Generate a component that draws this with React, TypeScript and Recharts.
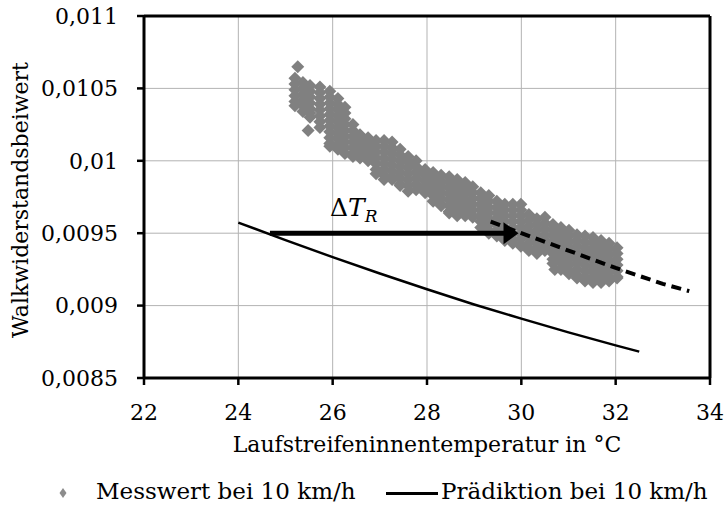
import React from 'react';
import {
  ComposedChart,
  Scatter,
  Line,
  XAxis,
  YAxis,
  CartesianGrid,
  ReferenceLine,
  Legend,
} from 'recharts';

const FONT = '"DejaVu Serif", serif';

const xTicks = [22, 24, 26, 28, 30, 32, 34];
const yTicks = [0.0085, 0.009, 0.0095, 0.01, 0.0105, 0.011];

// Messwerte bei 10 km/h, je Temperaturspalte die gemessenen Beiwerte
const messTemp = [
  25.2, 25.37, 25.52, 25.73, 25.94, 26.11, 26.26, 26.43, 26.58, 26.75, 26.92,
  27.09, 27.26, 27.43, 27.6, 27.77, 27.96, 28.13, 28.3, 28.47, 28.64, 28.81,
  28.97, 29.14, 29.31, 29.48, 29.65, 29.82, 29.99, 30.16, 30.33, 30.5, 30.67,
  30.84, 31.01, 31.18, 31.35, 31.52, 31.69, 31.86, 32.03,
];
const messBeiwerte = [
  [0.01057, 0.01053, 0.01049, 0.01045, 0.01041, 0.01038],
  [0.01054, 0.0105, 0.01046, 0.01042, 0.01038, 0.01034],
  [0.01052, 0.01048, 0.01044, 0.0104, 0.01036, 0.01033, 0.0103],
  [0.01051, 0.01047, 0.01043, 0.01039, 0.01035, 0.01031, 0.01027, 0.01023],
  [0.01048, 0.01044, 0.0104, 0.01036, 0.01032, 0.01028, 0.01024, 0.0102, 0.01016, 0.01012, 0.0101],
  [0.01043, 0.01039, 0.01035, 0.01031, 0.01027, 0.01023, 0.01019, 0.01015, 0.01011, 0.01008],
  [0.01037, 0.01033, 0.01029, 0.01025, 0.01021, 0.01017, 0.01013, 0.01009, 0.01005],
  [0.01025, 0.01021, 0.01017, 0.01013, 0.01009, 0.01005, 0.01003],
  [0.01018, 0.01014, 0.0101, 0.01006, 0.01002],
  [0.01016, 0.01012, 0.01008, 0.01004, 0.01],
  [0.01014, 0.0101, 0.01006, 0.01002, 0.00998, 0.00994, 0.00991],
  [0.01014, 0.0101, 0.01006, 0.01002, 0.00998, 0.00994, 0.0099, 0.00987],
  [0.01013, 0.01009, 0.01005, 0.01001, 0.00997, 0.00993, 0.00989, 0.00987],
  [0.01008, 0.01004, 0.01, 0.00996, 0.00992, 0.00988, 0.00984, 0.00983],
  [0.01003, 0.00999, 0.00995, 0.00991, 0.00987, 0.00983, 0.00979],
  [0.01, 0.00996, 0.00992, 0.00988, 0.00984, 0.0098],
  [0.00994, 0.0099, 0.00986, 0.00982, 0.00978],
  [0.00992, 0.00988, 0.00984, 0.0098, 0.00976, 0.00972],
  [0.0099, 0.00986, 0.00982, 0.00978, 0.00974, 0.0097, 0.00969],
  [0.00989, 0.00985, 0.00981, 0.00977, 0.00973, 0.00969, 0.00965, 0.00964],
  [0.00987, 0.00983, 0.00979, 0.00975, 0.00971, 0.00967, 0.00963, 0.00962],
  [0.00985, 0.00981, 0.00977, 0.00973, 0.00969, 0.00965, 0.00962],
  [0.00982, 0.00978, 0.00974, 0.0097, 0.00966, 0.00962, 0.00961],
  [0.00978, 0.00974, 0.0097, 0.00966, 0.00962, 0.00958, 0.00954],
  [0.00976, 0.00972, 0.00968, 0.00964, 0.0096, 0.00956, 0.00952, 0.0095],
  [0.00972, 0.00968, 0.00964, 0.0096, 0.00956, 0.00952, 0.00948],
  [0.0097, 0.00966, 0.00962, 0.00958, 0.00954, 0.0095, 0.00946, 0.00945],
  [0.0097, 0.00966, 0.00962, 0.00958, 0.00954, 0.0095, 0.00946, 0.00943],
  [0.0097, 0.00966, 0.00962, 0.00958, 0.00954, 0.0095, 0.00946, 0.00942, 0.00941],
  [0.00963, 0.00959, 0.00955, 0.00951, 0.00947, 0.00943, 0.00939, 0.00938],
  [0.0096, 0.00956, 0.00952, 0.00948, 0.00944, 0.0094, 0.00936],
  [0.00961, 0.00957, 0.00953, 0.00949, 0.00945, 0.00941, 0.00938],
  [0.00956, 0.00952, 0.00948, 0.00944, 0.0094, 0.00936, 0.00932, 0.00929],
  [0.00954, 0.0095, 0.00946, 0.00942, 0.00938, 0.00934, 0.0093, 0.00926, 0.00925],
  [0.00952, 0.00948, 0.00944, 0.0094, 0.00936, 0.00932, 0.00928, 0.00924, 0.00922],
  [0.00949, 0.00945, 0.00941, 0.00937, 0.00933, 0.00929, 0.00925, 0.00921, 0.00919],
  [0.00948, 0.00944, 0.0094, 0.00936, 0.00932, 0.00928, 0.00924, 0.0092, 0.00917],
  [0.00947, 0.00943, 0.00939, 0.00935, 0.00931, 0.00927, 0.00923, 0.00919, 0.00916],
  [0.00945, 0.00941, 0.00937, 0.00933, 0.00929, 0.00925, 0.00921, 0.00917, 0.00916],
  [0.00943, 0.00939, 0.00935, 0.00931, 0.00927, 0.00923, 0.00919, 0.00917],
  [0.0094, 0.00936, 0.00932, 0.00928, 0.00924, 0.0092, 0.00919],
];
const ausreisserTemp = [25.26, 25.48, 30.71];
const ausreisserBeiwert = [0.01065, 0.01021, 0.00925];

// Prädiktion bei 10 km/h
const praedTemp = [24, 25, 26, 27, 28, 29, 30, 31, 32, 32.5];
const praedBeiwert = [
  0.009573, 0.009452, 0.009335, 0.009222, 0.009113, 0.009008, 0.00891,
  0.008815, 0.008725, 0.008682,
];

// verschobene Prädiktion (gestrichelt)
const verschTemp = [29.35, 30, 31, 32, 33, 33.56];
const verschBeiwert = [0.00958, 0.0095, 0.00938, 0.00926, 0.00915, 0.0091];

// Pfeil für die Temperaturverschiebung
const pfeilTemp = [24.67, 29.94];
const pfeilBeiwert = 0.0095;

const messDaten = [
  ...messTemp.flatMap((x, i) => messBeiwerte[i].map((y) => ({ x, y }))),
  ...ausreisserTemp.map((x, i) => ({ x, y: ausreisserBeiwert[i] })),
];
const praedDaten = praedTemp.map((x, i) => ({ x, y: praedBeiwert[i] }));
const verschDaten = verschTemp.map((x, i) => ({ x, y: verschBeiwert[i] }));

const fmt = (v: number) => String(v).replace('.', ',');

const Raute = (props: any) => {
  const { cx, cy } = props;
  if (cx == null || cy == null) return null;
  return (
    <path
      d={`M${cx},${cy - 6.5}L${cx + 6.5},${cy}L${cx},${cy + 6.5}L${cx - 6.5},${cy}Z`}
      fill="#808080"
    />
  );
};

const Pfeil = (props: any) => {
  const { x1, y1, x2 } = props;
  const head = 15;
  return (
    <g>
      <line x1={x1} y1={y1} x2={x2 - head + 2} y2={y1} stroke="#000" strokeWidth={5} />
      <path d={`M${x2},${y1}L${x2 - head},${y1 - 11}L${x2 - head},${y1 + 11}Z`} fill="#000" />
      <text x={x1 + 60} y={y1 - 17} fontFamily={FONT} fontSize={25} fill="#000">
        Δ<tspan fontStyle="italic">T</tspan>
        <tspan fontStyle="italic" fontSize={17} dy={6}>R</tspan>
      </text>
    </g>
  );
};

const XTitel = (props: any) => {
  const { viewBox } = props;
  return (
    <text
      x={viewBox.x + viewBox.width / 2}
      y={viewBox.y + 74}
      textAnchor="middle"
      fontFamily={FONT}
      fontSize={22}
      fill="#000"
    >
      Laufstreifeninnentemperatur in °C
    </text>
  );
};

const YTitel = (props: any) => {
  const { viewBox } = props;
  const cy = viewBox.y + viewBox.height / 2 + 3;
  return (
    <text
      x={28}
      y={cy}
      transform={`rotate(-90, 28, ${cy})`}
      textAnchor="middle"
      fontFamily={FONT}
      fontSize={22}
      fill="#000"
    >
      Walkwiderstandsbeiwert
    </text>
  );
};

const Legende = () => (
  <div
    style={{
      position: 'relative',
      width: 724,
      height: 30,
      fontFamily: FONT,
      fontSize: 23,
      color: '#000',
    }}
  >
    <svg width={12} height={12} style={{ position: 'absolute', left: 57, top: 9 }}>
      <path d="M6,1L9.5,6L6,11L2.5,6Z" fill="#8c8c8c" />
    </svg>
    <span style={{ position: 'absolute', left: 96, top: 0, whiteSpace: 'nowrap' }}>
      Messwert bei 10 km/h
    </span>
    <div
      style={{ position: 'absolute', left: 386, top: 14, width: 52, height: 3, background: '#000' }}
    />
    <span style={{ position: 'absolute', left: 441, top: 0, whiteSpace: 'nowrap' }}>
      Prädiktion bei 10 km/h
    </span>
  </div>
);

export default function App() {
  return (
    <div style={{ position: 'absolute', left: 0, top: 0, background: '#fff' }}>
      <ComposedChart
        width={724}
        height={509}
        margin={{ top: 16, right: 14, bottom: 1, left: 0 }}
      >
        <CartesianGrid stroke="#b3b3b3" strokeWidth={1} />
        <XAxis
          type="number"
          dataKey="x"
          domain={[22, 34]}
          ticks={xTicks}
          interval={0}
          height={100}
          axisLine={{ stroke: '#000', strokeWidth: 3 }}
          tickLine={{ stroke: '#000', strokeWidth: 2.5 }}
          tickSize={7}
          tickMargin={19}
          tick={{ fill: '#000', fontFamily: FONT, fontSize: 22 }}
          label={{ content: XTitel }}
        />
        <YAxis
          type="number"
          dataKey="y"
          domain={[0.0085, 0.011]}
          ticks={yTicks}
          interval={0}
          width={144}
          axisLine={{ stroke: '#000', strokeWidth: 3 }}
          tickLine={{ stroke: '#000', strokeWidth: 2.5 }}
          tickSize={7}
          tickMargin={19}
          tickFormatter={fmt}
          tick={{ fill: '#000', fontFamily: FONT, fontSize: 22 }}
          label={{ content: YTitel }}
        />
        <ReferenceLine y={0.011} stroke="#000" strokeWidth={3} />
        <ReferenceLine x={34} stroke="#000" strokeWidth={3} />
        <Scatter
          name="Messwert bei 10 km/h"
          data={messDaten}
          shape={Raute}
          isAnimationActive={false}
        />
        <Line
          name="Prädiktion bei 10 km/h"
          data={praedDaten}
          dataKey="y"
          type="linear"
          stroke="#000"
          strokeWidth={2.5}
          dot={false}
          activeDot={false}
          zIndex={700}
          isAnimationActive={false}
        />
        <Line
          data={verschDaten}
          dataKey="y"
          type="linear"
          stroke="#000"
          strokeWidth={4}
          strokeDasharray="10 6"
          dot={false}
          activeDot={false}
          legendType="none"
          zIndex={700}
          isAnimationActive={false}
        />
        <ReferenceLine
          segment={[
            { x: pfeilTemp[0], y: pfeilBeiwert },
            { x: pfeilTemp[1], y: pfeilBeiwert },
          ]}
          shape={Pfeil}
          zIndex={800}
        />
        <Legend verticalAlign="bottom" height={30} content={Legende} wrapperStyle={{ left: 0, width: 724 }} />
      </ComposedChart>
    </div>
  );
}
